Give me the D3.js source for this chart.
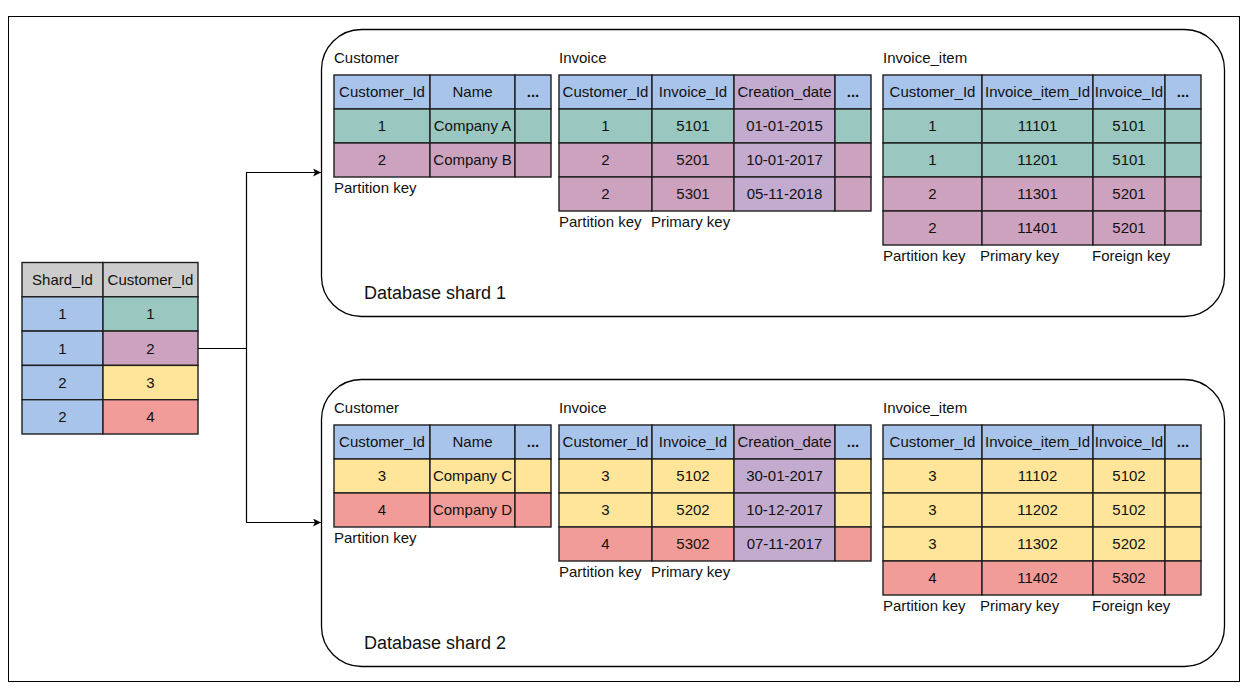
<!DOCTYPE html>
<html>
<head>
<meta charset="utf-8">
<script src="https://cdn.jsdelivr.net/npm/d3@7"></script>
<style>
  html, body { margin: 0; padding: 0; background: #fff; }
  svg { display: block; font-family: Arial, "Liberation Sans", Helvetica, sans-serif; }
</style>
</head>
<body>
<svg id="chart" width="1250" height="694"></svg>
<script>
// ---------------- DATA ----------------
const shardMapHeaders = ["Shard_Id", "Customer_Id"];
const shardMapShardIds = [1, 1, 2, 2];
const shardMapCustomerIds = [1, 2, 3, 4];

const customerHeaders = ["Customer_Id", "Name", "..."];
const invoiceHeaders = ["Customer_Id", "Invoice_Id", "Creation_date", "..."];
const itemHeaders = ["Customer_Id", "Invoice_item_Id", "Invoice_Id", "..."];

const shardNames = ["Database shard 1", "Database shard 2"];
const tableNames = ["Customer", "Invoice", "Invoice_item"];

// shard 1
const s1CustomerIds = [1, 2];
const s1CustomerNames = ["Company A", "Company B"];
const s1InvoiceCustomerIds = [1, 2, 2];
const s1InvoiceIds = [5101, 5201, 5301];
const s1InvoiceDates = ["01-01-2015", "10-01-2017", "05-11-2018"];
const s1ItemCustomerIds = [1, 1, 2, 2];
const s1ItemIds = [11101, 11201, 11301, 11401];
const s1ItemInvoiceIds = [5101, 5101, 5201, 5201];

// shard 2
const s2CustomerIds = [3, 4];
const s2CustomerNames = ["Company C", "Company D"];
const s2InvoiceCustomerIds = [3, 3, 4];
const s2InvoiceIds = [5102, 5202, 5302];
const s2InvoiceDates = ["30-01-2017", "10-12-2017", "07-11-2017"];
const s2ItemCustomerIds = [3, 3, 3, 4];
const s2ItemIds = [11102, 11202, 11302, 11402];
const s2ItemInvoiceIds = [5102, 5102, 5202, 5302];

const customerKeyLabels = ["Partition key"];
const invoiceKeyLabels = ["Partition key", "Primary key"];
const itemKeyLabels = ["Partition key", "Primary key", "Foreign key"];

// ---------------- STYLE / LAYOUT ----------------
const colorByCustomer = d3.scaleOrdinal()
  .domain([1, 2, 3, 4])
  .range(["#9AC7BF", "#CDA2BE", "#FFE599", "#F19C99"]);
const headerBlue = "#A9C4EB";
const dateViolet = "#C3ABD0";
const grey = "#CCCCCC";
const stroke = "#1e1e1e";
const fs = 15;

const svg = d3.select("#chart");

// outer frame
svg.append("rect")
  .attr("x", 8.5).attr("y", 16.5).attr("width", 1231).attr("height", 665)
  .attr("fill", "none").attr("stroke", "#000").attr("stroke-width", 1);

svg.append("defs").append("marker")
  .attr("id", "arrow").attr("viewBox", "0 0 10 10")
  .attr("refX", 10).attr("refY", 5)
  .attr("markerWidth", 8).attr("markerHeight", 8)
  .attr("markerUnits", "userSpaceOnUse")
  .attr("orient", "auto")
  .append("path").attr("d", "M0,0 L10,5 L0,10 L2.5,5 Z").attr("fill", "#000");

// generic table drawer
function drawTable(g, x0, y0, colWidths, rowH, rows) {
  // rows: array of arrays of {text, fill, bold}
  const xs = [0];
  colWidths.forEach(w => xs.push(xs[xs.length - 1] + w));
  const xScale = d3.scaleOrdinal().domain(d3.range(colWidths.length)).range(xs.slice(0, -1));
  const yScale = d3.scaleLinear().domain([0, rows.length]).range([0, rows.length * rowH]);
  const tg = g.append("g").attr("transform", `translate(${x0},${y0})`);
  rows.forEach((row, ri) => {
    row.forEach((cell, ci) => {
      const cx = xScale(ci), cy = yScale(ri);
      tg.append("rect")
        .attr("x", cx).attr("y", cy)
        .attr("width", colWidths[ci]).attr("height", rowH)
        .attr("fill", cell.fill).attr("stroke", stroke).attr("stroke-width", 1.4);
      tg.append("text")
        .attr("x", cx + colWidths[ci] / 2).attr("y", cy + rowH / 2)
        .attr("dy", "0.35em").attr("text-anchor", "middle")
        .attr("font-size", fs).attr("fill", "#111")
        .attr("font-weight", cell.bold ? "bold" : "normal")
        .text(cell.text);
    });
  });
  return { bottom: y0 + yScale(rows.length) };
}

function headerRow(headers, fills) {
  return headers.map((h, i) => ({ text: h, fill: fills ? fills[i] : headerBlue, bold: h === "..." }));
}

// ---------------- SHARD MAP ----------------
{
  const rows = [headerRow(shardMapHeaders, [grey, grey])];
  shardMapShardIds.forEach((s, i) => {
    rows.push([
      { text: String(s), fill: headerBlue },
      { text: String(shardMapCustomerIds[i]), fill: colorByCustomer(shardMapCustomerIds[i]) }
    ]);
  });
  drawTable(svg, 22, 262.5, [81, 95], 34.3, rows);
}

// connectors
const conn = svg.append("g").attr("fill", "none").attr("stroke", "#000").attr("stroke-width", 1.2);
conn.append("path").attr("d", "M198,348.5 H246.5 M246.5,172 V522");
conn.append("path").attr("d", "M246,172.5 H321").attr("marker-end", "url(#arrow)");
conn.append("path").attr("d", "M246,522.5 H321").attr("marker-end", "url(#arrow)");

// ---------------- SHARDS ----------------
const shardData = [
  {
    customer: { ids: s1CustomerIds, names: s1CustomerNames },
    invoice: { cust: s1InvoiceCustomerIds, ids: s1InvoiceIds, dates: s1InvoiceDates },
    item: { cust: s1ItemCustomerIds, ids: s1ItemIds, inv: s1ItemInvoiceIds }
  },
  {
    customer: { ids: s2CustomerIds, names: s2CustomerNames },
    invoice: { cust: s2InvoiceCustomerIds, ids: s2InvoiceIds, dates: s2InvoiceDates },
    item: { cust: s2ItemCustomerIds, ids: s2ItemIds, inv: s2ItemInvoiceIds }
  }
];

const rowH = 34;
shardData.forEach((sd, si) => {
  const oy = si * 350;
  const g = svg.append("g");
  g.append("rect")
    .attr("x", 321.5).attr("y", 29.5 + oy).attr("width", 903).attr("height", 287)
    .attr("rx", 40).attr("ry", 40)
    .attr("fill", "none").attr("stroke", "#000").attr("stroke-width", 1.3);
  g.append("text")
    .attr("x", 364).attr("y", 299 + oy)
    .attr("font-size", 18).attr("fill", "#111")
    .text(shardNames[si]);

  const tableTop = 75 + oy;
  const tableXs = [334, 559, 883];

  // table titles
  tableNames.forEach((n, i) => {
    g.append("text").attr("x", tableXs[i]).attr("y", tableTop - 12)
      .attr("font-size", fs).attr("fill", "#111").text(n);
  });

  // Customer
  const cRows = [headerRow(customerHeaders)];
  sd.customer.ids.forEach((id, i) => {
    const f = colorByCustomer(id);
    cRows.push([{ text: String(id), fill: f }, { text: sd.customer.names[i], fill: f }, { text: "", fill: f }]);
  });
  const cW = [96, 85, 36];
  const c = drawTable(g, tableXs[0], tableTop, cW, rowH, cRows);
  customerKeyLabels.forEach((l, i) => {
    g.append("text").attr("x", tableXs[0]).attr("y", c.bottom + 16)
      .attr("font-size", fs).attr("fill", "#111").text(l);
  });

  // Invoice
  const iRows = [headerRow(invoiceHeaders, [headerBlue, headerBlue, dateViolet, headerBlue])];
  sd.invoice.cust.forEach((cid, i) => {
    const f = colorByCustomer(cid);
    iRows.push([
      { text: String(cid), fill: f },
      { text: String(sd.invoice.ids[i]), fill: f },
      { text: sd.invoice.dates[i], fill: dateViolet },
      { text: "", fill: f }
    ]);
  });
  const iW = [93, 82, 101, 36];
  const inv = drawTable(g, tableXs[1], tableTop, iW, rowH, iRows);
  const iLabelX = [0, iW[0]];
  invoiceKeyLabels.forEach((l, i) => {
    g.append("text").attr("x", tableXs[1] + iLabelX[i] - (i ? 1 : 0)).attr("y", inv.bottom + 16)
      .attr("font-size", fs).attr("fill", "#111").text(l);
  });

  // Invoice_item
  const tRows = [headerRow(itemHeaders)];
  sd.item.cust.forEach((cid, i) => {
    const f = colorByCustomer(cid);
    tRows.push([
      { text: String(cid), fill: f },
      { text: String(sd.item.ids[i]), fill: f },
      { text: String(sd.item.inv[i]), fill: f },
      { text: "", fill: f }
    ]);
  });
  const tW = [99, 111, 72, 36];
  const it = drawTable(g, tableXs[2], tableTop, tW, rowH, tRows);
  const tLabelX = [0, tW[0] - 2, tW[0] + tW[1] - 1];
  itemKeyLabels.forEach((l, i) => {
    g.append("text").attr("x", tableXs[2] + tLabelX[i]).attr("y", it.bottom + 16)
      .attr("font-size", fs).attr("fill", "#111").text(l);
  });
});
</script>
</body>
</html>
